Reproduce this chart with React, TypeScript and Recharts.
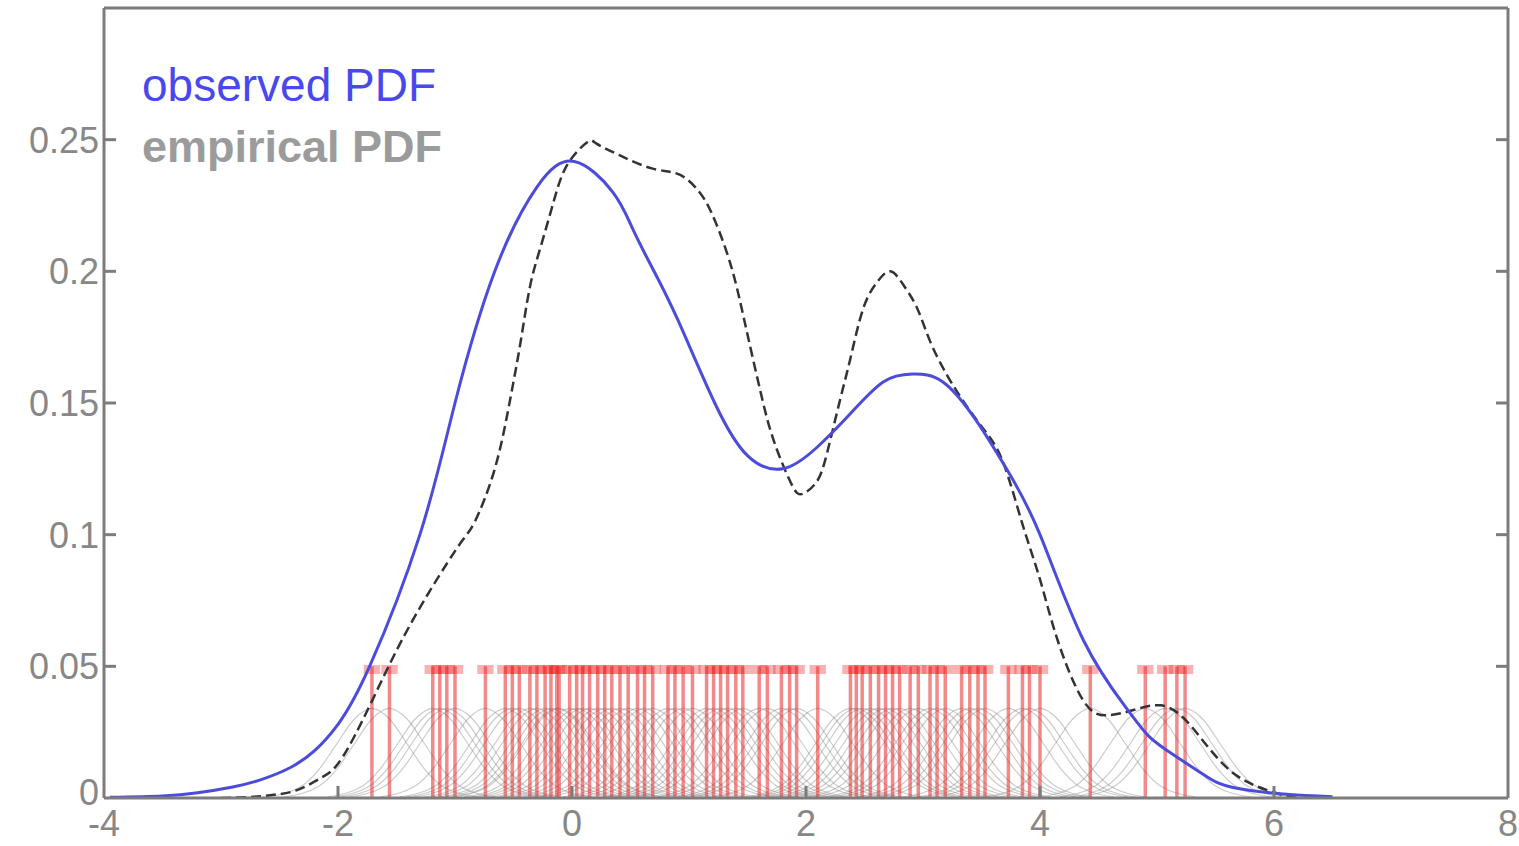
import { LineChart, Line, XAxis, YAxis, ReferenceLine } from "recharts";

// axis ticks
const xTicks = [-4, -2, 0, 2, 4, 6, 8];
const xTickLabels = ["-4", "-2", "0", "2", "4", "6", "8"];
const yTicks = [0, 0.05, 0.1, 0.15, 0.2, 0.25];
const yTickLabels = ["0", "0.05", "0.1", "0.15", "0.2", "0.25"];

// observed PDF (blue, solid)
const observedX = [-3.95, -3.5, -3.2, -2.9, -2.67, -2.41, -2.2, -2.0, -1.73, -1.3, -1.0, -0.66, -0.3, 0.02, 0.35, 0.52, 0.69, 0.9, 1.22, 1.5, 1.8, 2.09, 2.38, 2.66, 2.91, 3.17, 3.46, 3.74, 4.0, 4.37, 4.74, 4.94, 5.17, 5.43, 5.65, 6.08, 6.5];
const observedY = [0.0003, 0.0008, 0.002, 0.0042, 0.0068, 0.0115, 0.018, 0.028, 0.05, 0.1, 0.15, 0.2, 0.232, 0.2417, 0.23, 0.216, 0.201, 0.182, 0.15, 0.13, 0.125, 0.133, 0.146, 0.158, 0.161, 0.158, 0.143, 0.123, 0.1, 0.06, 0.034, 0.023, 0.0155, 0.008, 0.004, 0.0015, 0.0005];

// empirical PDF (black, dashed)
const empiricalX = [-3.0, -2.75, -2.55, -2.35, -2.15, -2.0, -1.79, -1.5, -1.21, -0.95, -0.83, -0.66, -0.53, -0.44, -0.36, -0.27, -0.16, -0.04, 0.13, 0.21, 0.41, 0.69, 0.92, 1.09, 1.2, 1.32, 1.41, 1.5, 1.61, 1.69, 1.78, 1.89, 1.97, 2.09, 2.18, 2.29, 2.38, 2.49, 2.61, 2.72, 2.83, 2.95, 3.06, 3.2, 3.34, 3.51, 3.68, 3.85, 4.0, 4.15, 4.37, 4.57, 4.79, 5.03, 5.22, 5.37, 5.51, 5.65, 5.79, 5.94, 6.14, 6.3];
const empiricalY = [0, 0.0004, 0.0012, 0.003, 0.0075, 0.013, 0.0295, 0.056, 0.079, 0.097, 0.105, 0.125, 0.151, 0.173, 0.194, 0.209, 0.226, 0.2405, 0.249, 0.2485, 0.244, 0.239, 0.2367, 0.23, 0.2215, 0.2076, 0.1936, 0.176, 0.1545, 0.1405, 0.129, 0.118, 0.1155, 0.12, 0.131, 0.151, 0.167, 0.186, 0.196, 0.2, 0.195, 0.186, 0.1735, 0.161, 0.151, 0.1405, 0.128, 0.104, 0.083, 0.06, 0.037, 0.0314, 0.0333, 0.0352, 0.0307, 0.023, 0.0155, 0.0095, 0.0057, 0.003, 0.0005, 0];

// sample positions (red rug)
const samples = [
  -1.71, -1.56, -1.19, -1.13, -1.07, -1.0, -0.74, -0.57, -0.51, -0.45, -0.36, -0.3, -0.23, -0.18,
  -0.13, -0.11, -0.02, 0.04, 0.09, 0.15, 0.22, 0.28, 0.34, 0.41, 0.48, 0.56, 0.62, 0.69,
  0.82, 0.88, 0.95, 1.03, 1.15, 1.21, 1.27, 1.33, 1.4, 1.46, 1.6, 1.67, 1.79, 1.86, 1.92,
  2.1, 2.38, 2.43, 2.48, 2.55, 2.62, 2.68, 2.74, 2.8, 2.89, 2.96, 3.06, 3.12, 3.19,
  3.33, 3.4, 3.47, 3.53, 3.73, 3.85, 3.91, 4.0, 4.43, 4.9, 5.07, 5.17, 5.24,
];
const rugHeight = 0.05;

// shape of one grey kernel bump (offset from its sample, height)
const kernelOffsets = [-0.9, -0.6, -0.45, -0.3, -0.15, 0, 0.15, 0.3, 0.45, 0.6, 0.9];
const kernelHeights = [0.0004, 0.0046, 0.011, 0.0206, 0.03, 0.034, 0.03, 0.0206, 0.011, 0.0046, 0.0004];

const observed = observedX.map((x, i) => ({ x, y: observedY[i] }));
const empirical = empiricalX.map((x, i) => ({ x, y: empiricalY[i] }));
const kernels = samples.map((s) =>
  kernelOffsets.map((o, i) => ({ x: s + o, y: kernelHeights[i] }))
);

const FONT = "'Liberation Sans', Arial, Helvetica, sans-serif";
const AXIS = "#7c7c7c";
const LABEL = "#878787";

const labelFor = (v: number, ticks: number[], labels: string[]) => {
  const i = ticks.indexOf(v);
  return i >= 0 ? labels[i] : String(v);
};

function LeftTick(props: any) {
  const { x, y, payload } = props;
  const base = payload.value === 0 ? y + 7 : y + 13;
  return (
    <g>
      <text x={x} y={base} textAnchor="end" fontFamily={FONT} fontSize={36} fill={LABEL}>
        {labelFor(payload.value, yTicks, yTickLabels)}
      </text>
      {payload.value > 0 && (
        <line x1={x + 5} x2={x + 17} y1={y} y2={y} stroke={AXIS} strokeWidth={3} />
      )}
    </g>
  );
}

function RightTick(props: any) {
  const { x, y, payload } = props;
  if (payload.value <= 0) return <g />;
  return <line x1={x} x2={x - 12} y1={y} y2={y} stroke={AXIS} strokeWidth={3} />;
}

function BottomTick(props: any) {
  const { x, y, payload } = props;
  const inner = payload.value > -4 && payload.value < 8;
  return (
    <g>
      <text x={x} y={y + 38} textAnchor="middle" fontFamily={FONT} fontSize={36} fill={LABEL}>
        {labelFor(payload.value, xTicks, xTickLabels)}
      </text>
      {inner && <line x1={x} x2={x} y1={y} y2={y - 12} stroke={AXIS} strokeWidth={3} />}
    </g>
  );
}

function TopTick(props: any) {
  const { x, y, payload } = props;
  if (payload.value <= -4 || payload.value >= 8) return <g />;
  return <line x1={x} x2={x} y1={y} y2={y + 12} stroke={AXIS} strokeWidth={3} />;
}

export default function App() {
  return (
    <div style={{ position: "absolute", left: 0, top: 0, width: 1519, height: 846, background: "#fff" }}>
      <LineChart width={1519} height={846} margin={{ top: 0, right: 0, left: 0, bottom: 0 }}>
        <XAxis
          dataKey="x"
          type="number"
          domain={[-4, 8]}
          ticks={xTicks}
          allowDataOverflow
          height={48}
          tickSize={0}
          tickMargin={0}
          tickLine={false}
          axisLine={{ stroke: AXIS, strokeWidth: 3 }}
          tick={<BottomTick />}
          interval={0}
        />
        <XAxis
          xAxisId="top"
          orientation="top"
          type="number"
          domain={[-4, 8]}
          ticks={xTicks}
          allowDataOverflow
          height={8}
          tickSize={0}
          tickMargin={0}
          tickLine={false}
          axisLine={{ stroke: AXIS, strokeWidth: 3 }}
          tick={<TopTick />}
          interval={0}
        />
        <YAxis
          type="number"
          domain={[0, 0.3]}
          ticks={yTicks}
          allowDataOverflow
          width={104}
          tickSize={0}
          tickMargin={5}
          tickLine={false}
          axisLine={{ stroke: AXIS, strokeWidth: 3 }}
          tick={<LeftTick />}
          interval={0}
        />
        <YAxis
          yAxisId="right"
          orientation="right"
          type="number"
          domain={[0, 0.3]}
          ticks={yTicks}
          allowDataOverflow
          width={11}
          tickSize={0}
          tickMargin={0}
          tickLine={false}
          axisLine={{ stroke: AXIS, strokeWidth: 3 }}
          tick={<RightTick />}
          interval={0}
        />

        {kernels.map((k, i) => (
          <Line
            key={`k${i}`}
            data={k}
            dataKey="y"
            type="monotone"
            stroke="#8c8c8c"
            strokeOpacity={0.45}
            strokeWidth={1.2}
            dot={false}
            activeDot={false}
            isAnimationActive={false}
          />
        ))}

        {samples.map((s, i) => (
          <ReferenceLine
            key={`r${i}`}
            segment={[
              { x: s, y: 0 },
              { x: s, y: rugHeight },
            ]}
            stroke="#e62a2a"
            strokeOpacity={0.55}
            strokeWidth={3.5}
          />
        ))}
        {samples.map((s, i) => (
          <ReferenceLine
            key={`c${i}`}
            segment={[
              { x: s - 0.07, y: rugHeight - 0.0012 },
              { x: s + 0.07, y: rugHeight - 0.0012 },
            ]}
            stroke="#f02020"
            strokeOpacity={0.35}
            strokeWidth={9}
          />
        ))}

        <Line
          data={empirical}
          dataKey="y"
          type="natural"
          stroke="#333333"
          strokeWidth={2.5}
          strokeDasharray="10 5"
          dot={false}
          activeDot={false}
          isAnimationActive={false}
        />
        <Line
          data={observed}
          dataKey="y"
          type="natural"
          stroke="#4b4bdc"
          strokeWidth={3}
          dot={false}
          activeDot={false}
          isAnimationActive={false}
        />
      </LineChart>
      <svg
        width={1519}
        height={846}
        style={{ position: "absolute", left: 0, top: 0, pointerEvents: "none" }}
      >
        <text x={142} y={101} fontFamily={FONT} fontSize={46} fill="#4848ee">
          observed PDF
        </text>
        <text x={142} y={162} fontFamily={FONT} fontSize={45} fontWeight="bold" fill="#9b9b9b">
          empirical PDF
        </text>
      </svg>
    </div>
  );
}
